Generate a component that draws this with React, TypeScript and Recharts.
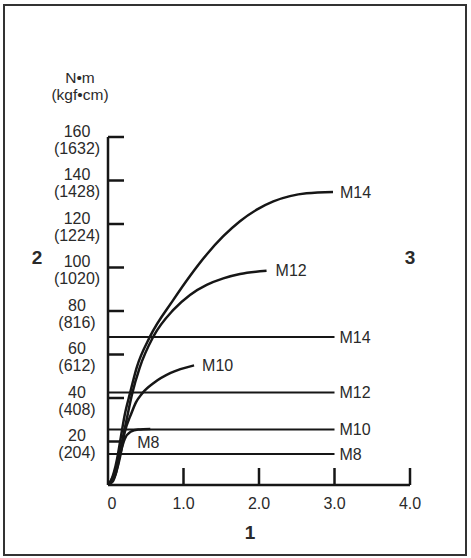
import React from 'react';
import { LineChart, Line, XAxis, YAxis } from 'recharts';

// ---- data ----
const xTicks = [0, 1, 2, 3, 4];
const yTicks = [0, 20, 40, 60, 80, 100, 120, 140, 160];
const yTickKgf = ['', '(204)', '(408)', '(612)', '(816)', '(1020)', '(1224)', '(1428)', '(1632)'];

const m14CurveX = [0, 0.04, 0.08, 0.12, 0.17, 0.22, 0.29, 0.38, 0.556, 0.865, 1.086, 1.307, 1.527, 1.748, 1.97, 2.19, 2.41, 2.63, 2.98];
const m14CurveY = [0, 2, 6, 12, 22, 32, 42, 54, 68.2, 85.1, 96.1, 106, 114.4, 121.3, 126.6, 130.4, 132.8, 134.1, 134.7];

const m12CurveX = [0, 0.04, 0.08, 0.13, 0.18, 0.24, 0.32, 0.42, 0.6, 0.865, 1.086, 1.307, 1.527, 1.748, 2.1];
const m12CurveY = [0, 2, 5, 11, 19, 29, 42, 54, 68.2, 80.5, 87.4, 92, 95, 97, 98.5];

const m10CurveX = [0, 0.04, 0.07, 0.11, 0.16, 0.22, 0.31, 0.37, 0.45, 0.61, 0.83, 1.14];
const m10CurveY = [0, 1, 2, 6, 13, 24, 33, 38, 42, 47, 51.5, 55];

const m8CurveX = [0, 0.05, 0.1, 0.16, 0.22, 0.3, 0.4, 0.56];
const m8CurveY = [0, 1.5, 5, 14, 21, 24.5, 25.5, 25.8];

const flatNames = ['M14', 'M12', 'M10', 'M8'];
const flatValues = [68, 42.5, 25.5, 14.2];
const flatRange = [0, 3];

const zip = (xs: number[], ys: number[]) => xs.map((x, i) => ({ x, y: ys[i] }));

const FONT = '"Liberation Sans", Arial, Helvetica, sans-serif';
const TEXT = '#2a2a2a';
const INK = '#161616';

const endLabel = (text: string, atIndex: number, dx: number, dy: number) => (props: any) => {
  const { x, y, index } = props;
  if (index !== atIndex) return <g key={`l-${index}`} />;
  return (
    <text
      key={`l-${index}`}
      x={x + dx}
      y={y + dy}
      fill={TEXT}
      fontSize={16}
      fontFamily={FONT}
      dominantBaseline="central"
      textAnchor="start"
    >
      {text}
    </text>
  );
};

const YTick = (props: any) => {
  const { x, y, payload } = props;
  const v = payload.value;
  if (v === 0) return <g />;
  const i = yTicks.indexOf(v);
  return (
    <g>
      <line x1={x} y1={y} x2={x + 16} y2={y} stroke={INK} strokeWidth={2.5} />
      <text x={x - 31} y={y - 6} textAnchor="middle" dominantBaseline="central" fontSize={16} fontFamily={FONT} fill={TEXT}>
        {String(v)}
      </text>
      <text x={x - 31} y={y + 11} textAnchor="middle" dominantBaseline="central" fontSize={16} fontFamily={FONT} fill={TEXT}>
        {yTickKgf[i]}
      </text>
    </g>
  );
};

const XTick = (props: any) => {
  const { x, y, payload } = props;
  const v = payload.value;
  return (
    <g>
      {v > 0 && <line x1={x} y1={y} x2={x} y2={y - 17} stroke={INK} strokeWidth={2.5} />}
      <text x={v === 0 ? x + 4 : x} y={y + 18} textAnchor="middle" dominantBaseline="central" fontSize={16} fontFamily={FONT} fill={TEXT}>
        {v === 0 ? '0' : v.toFixed(1)}
      </text>
    </g>
  );
};

export default function App() {
  return (
    <div style={{ position: 'absolute', left: 0, top: 0, width: 471, height: 558, background: '#fff' }}>
      <div
        style={{
          position: 'absolute',
          left: 3,
          top: 4,
          width: 464,
          height: 552,
          border: '2px solid #333',
          boxSizing: 'border-box',
        }}
      />
      <div style={{ position: 'absolute', left: 0, top: 0 }}>
        <LineChart width={471} height={558} margin={{ top: 137, right: 61, bottom: 43, left: 48 }}>
          <XAxis
            type="number"
            dataKey="x"
            domain={[0, 4]}
            ticks={xTicks}
            allowDuplicatedCategory={false}
            height={30}
            tickSize={0}
            tickMargin={0}
            axisLine={{ stroke: INK, strokeWidth: 2.5 }}
            tickLine={false}
            tick={<XTick />}
            interval={0}
          />
          <YAxis
            type="number"
            domain={[0, 160]}
            ticks={yTicks}
            width={60}
            tickSize={0}
            tickMargin={0}
            axisLine={{ stroke: INK, strokeWidth: 2.5 }}
            tickLine={false}
            tick={<YTick />}
            interval={0}
          />
          {flatValues.map((v, i) => (
            <Line
              key={`flat-${i}`}
              data={flatRange.map((x) => ({ x, y: v }))}
              dataKey="y"
              stroke={INK}
              strokeWidth={2}
              dot={false}
              isAnimationActive={false}
              label={endLabel(flatNames[i], 1, 5, 0)}
            />
          ))}
          <Line data={zip(m14CurveX, m14CurveY)} dataKey="y" type="monotone" stroke={INK} strokeWidth={2.5} dot={false}
            isAnimationActive={false} label={endLabel('M14', m14CurveX.length - 1, 7, 0)} />
          <Line data={zip(m12CurveX, m12CurveY)} dataKey="y" type="monotone" stroke={INK} strokeWidth={2.5} dot={false}
            isAnimationActive={false} label={endLabel('M12', m12CurveX.length - 1, 9, 0)} />
          <Line data={zip(m10CurveX, m10CurveY)} dataKey="y" type="monotone" stroke={INK} strokeWidth={2.5} dot={false}
            isAnimationActive={false} label={endLabel('M10', m10CurveX.length - 1, 8, 0)} />
          <Line data={zip(m8CurveX, m8CurveY)} dataKey="y" type="monotone" stroke={INK} strokeWidth={2.5} dot={false}
            isAnimationActive={false} label={endLabel('M8', 6, -1, 13)} />
          <text x={80} y={77.5} textAnchor="middle" dominantBaseline="central" fontSize={15.5} fontFamily={FONT} fill={TEXT}>N•m</text>
          <text x={80} y={94.5} textAnchor="middle" dominantBaseline="central" fontSize={15.5} fontFamily={FONT} fill={TEXT}>(kgf•cm)</text>
          <text x={37} y={257} textAnchor="middle" dominantBaseline="central" fontSize={19} fontWeight="bold" fontFamily={FONT} fill={TEXT}>2</text>
          <text x={410} y={257} textAnchor="middle" dominantBaseline="central" fontSize={19} fontWeight="bold" fontFamily={FONT} fill={TEXT}>3</text>
          <text x={250} y={532} textAnchor="middle" dominantBaseline="central" fontSize={19} fontWeight="bold" fontFamily={FONT} fill={TEXT}>1</text>
        </LineChart>
      </div>
    </div>
  );
}
